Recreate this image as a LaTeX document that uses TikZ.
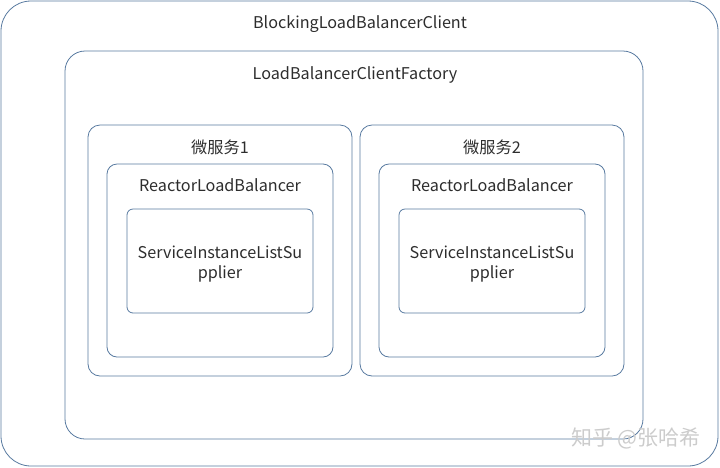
\documentclass[tikz,border=0pt]{standalone}
\usepackage{fontspec}
\setmainfont{Noto Sans CJK SC}
\usetikzlibrary{positioning}
\definecolor{boxline}{RGB}{88,122,160}
\definecolor{txt}{RGB}{45,45,45}
\tikzset{
	box/.style = {draw = boxline, line width = 0.8pt, rounded corners = #1, inner sep = 0pt},
	box/.default = 10pt,
	title/.style = {text = txt, font = \fontsize{16.2}{19}\selectfont, inner sep = 0pt}
}

\begin{document}
\begin{tikzpicture}[x = 1pt, y = -1pt]
	\useasboundingbox (0,0) rectangle (720,467);

	\node[box = 30pt, minimum width = 717pt, minimum height = 465pt] (client) at (359.5,233.5) {};
	\node[box = 20pt, minimum width = 578pt, minimum height = 388pt] (factory) at (354,245) {};

	\node[box = 12pt, minimum width = 264pt, minimum height = 251pt] (svcA) at (220,250.5) {};
	\node[box = 12pt, minimum width = 264pt, minimum height = 251pt] (svcB) at (492,250.5) {};

	\node[box = 10pt, minimum width = 226pt, minimum height = 193pt] (lbA) at (220,260.5) {};
	\node[box = 10pt, minimum width = 226pt, minimum height = 193pt] (lbB) at (492,260.5) {};

	\node[box = 6pt, minimum width = 186pt, minimum height = 104pt] (supA) at (220,261) {};
	\node[box = 6pt, minimum width = 186pt, minimum height = 104pt] (supB) at (492,261) {};

	\node[title] (clientText) at (360,24.5) {BlockingLoadBalancerClient};
	\node[title] (factoryText) at (355,74.5) {LoadBalancerClientFactory};
	\node[title] (svcAText) at (220,147) {微服务1};
	\node[title] (svcBText) at (492,147) {微服务2};
	\node[title] (lbAText) at (220,185.5) {ReactorLoadBalancer};
	\node[title] (lbBText) at (492,185.5) {ReactorLoadBalancer};
	\node[title, align = center] (supAText) at (220,264) {ServiceInstanceListSu\\[1pt]pplier};
	\node[title, align = center] (supBText) at (492,264) {ServiceInstanceListSu\\[1pt]pplier};

	\node[text = gray!40, font = \fontsize{21}{24}\selectfont, inner sep = 0pt] (mark) at (636,438) {知乎 @张哈希};
\end{tikzpicture}
\end{document}
